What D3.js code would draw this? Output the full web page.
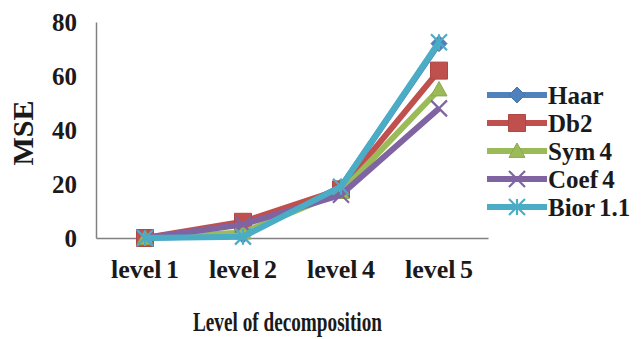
<!DOCTYPE html>
<html>
<head>
<meta charset="utf-8">
<script src="https://cdn.jsdelivr.net/npm/d3@7"></script>
<style>
  html, body { margin: 0; padding: 0; background: #fff; }
  svg text { font-family: "Liberation Serif", "Times New Roman", serif; font-weight: bold; fill: #1a1a1a; }
</style>
</head>
<body>
<svg id="chart" width="642" height="339"></svg>
<script>
// Decomposition levels on the x axis
const categories = ["level 1", "level 2", "level 4", "level 5"];
// Wavelet families and their MSE per level
const seriesNames = ["Haar", "Db2", "Sym 4", "Coef 4", "Bior 1.1"];
const haar = [0, 1, 19, 72];
const db2 = [0, 6, 18, 62];
const sym4 = [0, 2, 17, 55];
const coef4 = [0, 5, 16, 48];
const bior = [0, 0.5, 19, 72.5];
const yTicks = [0, 20, 40, 60, 80];

const seriesValues = [haar, db2, sym4, coef4, bior];
const colors = ["#4f81bd", "#c0504d", "#9bbb59", "#8064a2", "#4bacc6"];
const markers = ["diamond", "square", "triangle", "cross", "star"];

const svg = d3.select("#chart");
const plotLeft = 96, plotRight = 488, plotTop = 22, plotBottom = 238;

const x = d3.scaleBand().domain(categories).range([plotLeft, plotRight]);
const y = d3.scaleLinear().domain([0, 80]).range([plotBottom, plotTop]);
const cx = c => x(c) + x.bandwidth() / 2;

// Axes (plain lines, no tick marks)
const yAxis = svg.append("g").attr("transform", `translate(${plotLeft},0)`)
  .call(d3.axisLeft(y).tickValues(yTicks).tickSize(0).tickPadding(19));
yAxis.select(".domain").attr("stroke", "#808080").attr("stroke-width", 1.5);
yAxis.selectAll("text").attr("font-size", 25).attr("font-family", "Liberation Serif").attr("font-weight", "bold").attr("fill", "#1a1a1a");

const xAxis = svg.append("g").attr("transform", `translate(0,${plotBottom})`)
  .call(d3.axisBottom(x).tickSize(0).tickPadding(22));
xAxis.select(".domain").attr("stroke", "#808080").attr("stroke-width", 1.5);
xAxis.selectAll("text").attr("font-size", 26).attr("word-spacing", -2)
  .attr("font-family", "Liberation Serif").attr("font-weight", "bold").attr("fill", "#1a1a1a");

// Axis titles
svg.append("text")
  .attr("transform", `translate(33,133) rotate(-90)`)
  .attr("text-anchor", "middle")
  .attr("font-size", 30)
  .text("MSE");

svg.append("text")
  .attr("x", 193).attr("y", 331)
  .attr("font-size", 27)
  .attr("textLength", 189)
  .attr("lengthAdjust", "spacingAndGlyphs")
  .text("Level of decomposition");

// Marker shapes
function markerPath(type, size) {
  const s = size / 2;
  switch (type) {
    case "diamond": return `M0,${-s}L${s},0L0,${s}L${-s},0Z`;
    case "square": return `M${-s},${-s}H${s}V${s}H${-s}Z`;
    case "triangle": return `M0,${-s}L${s},${s * 0.8}L${-s},${s * 0.8}Z`;
    case "cross": return `M${-s},${-s}L${s},${s}M${s},${-s}L${-s},${s}`;
    case "star": return `M${-s},${-s}L${s},${s}M${s},${-s}L${-s},${s}M0,${-s}V${s}`;
  }
}
function drawMarker(g, type, color, size) {
  const filled = type === "diamond" || type === "square" || type === "triangle";
  g.append("path")
    .attr("d", markerPath(type, size))
    .attr("fill", filled ? color : "none")
    .attr("stroke", filled ? d3.color(color).darker(0.3) : color)
    .attr("stroke-width", filled ? 1 : 2.2);
}

const line = d3.line().x((d, i) => cx(categories[i])).y(d => y(d));

seriesValues.forEach((vals, si) => {
  const g = svg.append("g");
  g.append("path")
    .datum(vals)
    .attr("d", line)
    .attr("fill", "none")
    .attr("stroke", colors[si])
    .attr("stroke-width", 6)
    .attr("stroke-linejoin", "round");
  vals.forEach((v, i) => {
    const m = g.append("g").attr("transform", `translate(${cx(categories[i])},${y(v)})`);
    drawMarker(m, markers[si], colors[si], si === 1 ? 17 : 16);
  });
});

// Legend
const legend = svg.append("g");
seriesNames.forEach((name, i) => {
  const ly = 95 + i * 28;
  const item = legend.append("g");
  item.append("line")
    .attr("x1", 487).attr("x2", 547).attr("y1", ly).attr("y2", ly)
    .attr("stroke", colors[i]).attr("stroke-width", 6);
  const m = item.append("g").attr("transform", `translate(517,${ly})`);
  drawMarker(m, markers[i], colors[i], i === 1 ? 17 : 16);
  item.append("text")
    .attr("x", 548).attr("y", ly + 9)
    .attr("font-size", 25)
    .attr("word-spacing", -2)
    .text(name);
});
</script>
</body>
</html>
